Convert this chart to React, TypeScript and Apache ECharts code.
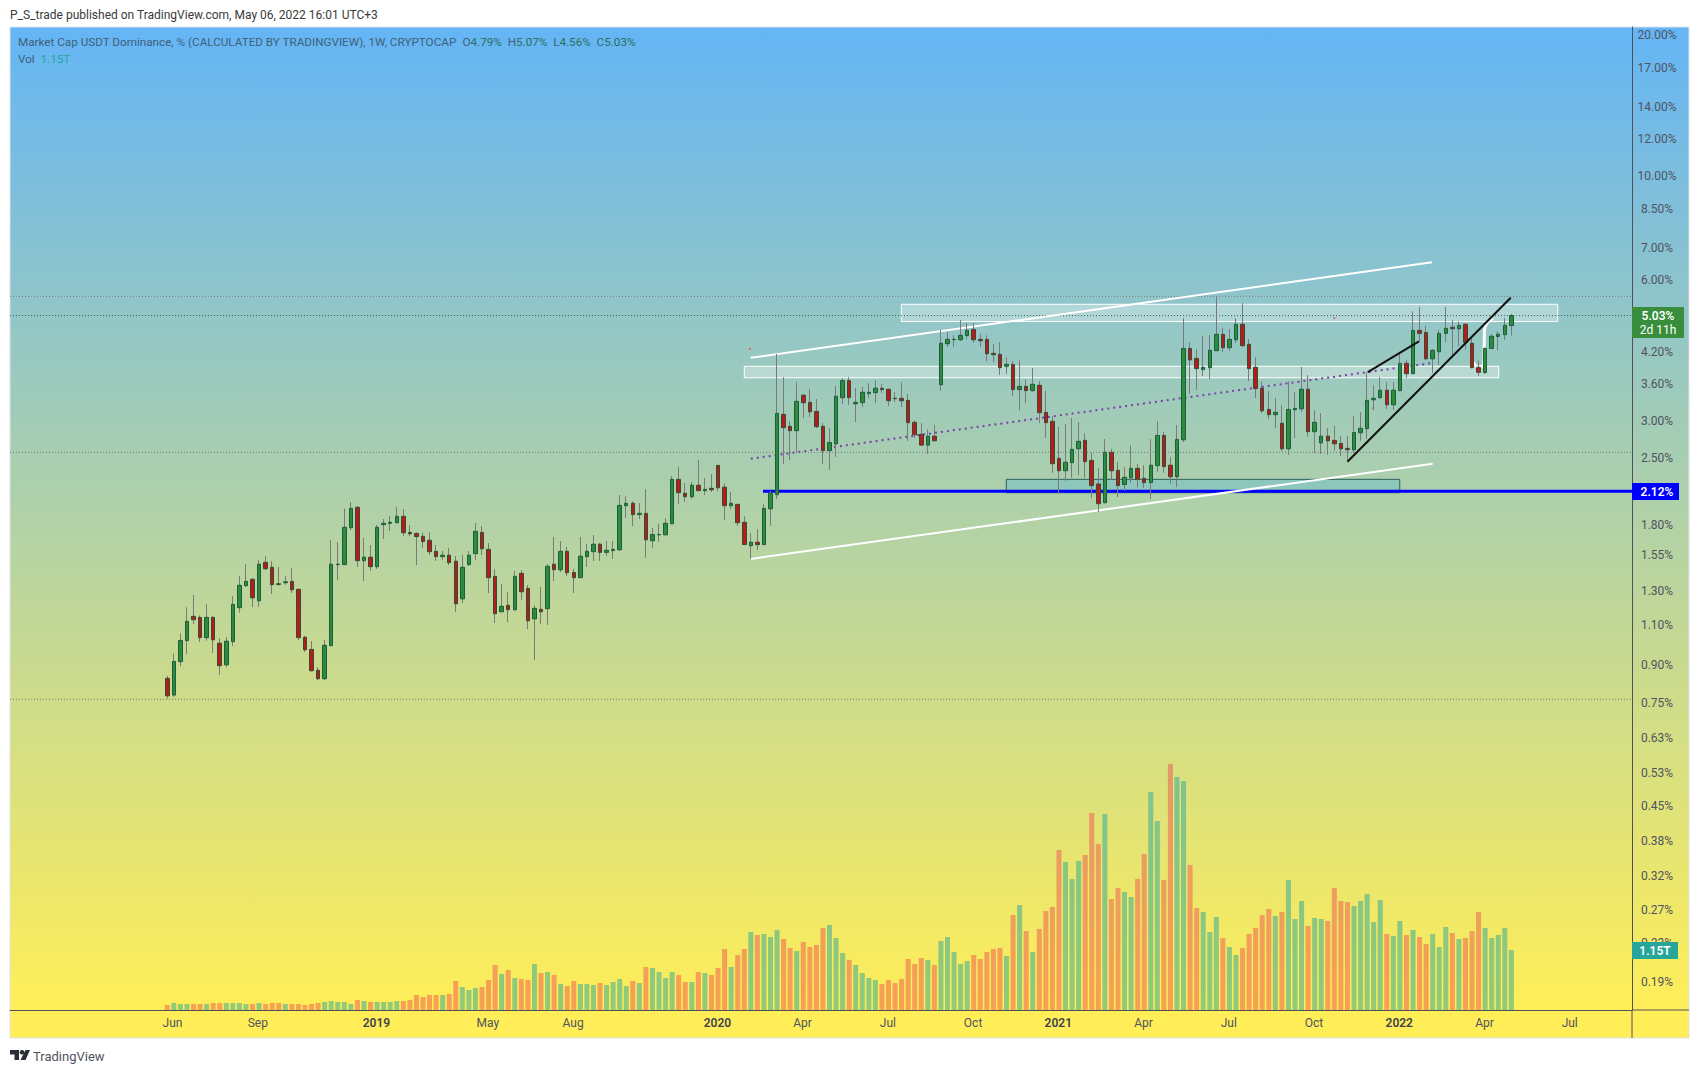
import React, { useEffect, useRef } from 'react';
import * as echarts from 'echarts';

// weekly bars, index 0 = first week on the chart
const opens = [
  0.845, 0.778, 0.917, 1.017, 1.146, 1.14, 1.032, 1.14, 1.004, 0.903,
  1.012, 1.196, 1.332, 1.375, 1.237, 1.495, 1.459, 1.345, 1.352, 1.361,
  1.309, 1.034, 0.974, 0.879, 0.843, 0.992, 1.478, 1.478, 1.772, 1.959,
  1.507, 1.533, 1.463, 1.799, 1.811, 1.816, 1.874, 1.732, 1.723, 1.699,
  1.666, 1.578, 1.537, 1.548, 1.503, 1.249, 1.478, 1.56, 1.732, 1.593,
  1.395, 1.172, 1.21, 1.184, 1.416, 1.315, 1.132, 1.186, 1.19, 1.481,
  1.441, 1.578, 1.422, 1.386, 1.537, 1.575, 1.634, 1.57, 1.583, 1.59,
  1.975, 1.998, 1.89, 1.902, 1.662, 1.711, 1.711, 1.807, 2.248, 2.099,
  2.064, 2.184, 2.126, 2.151, 2.408, 2.163, 1.975, 1.987, 1.82, 1.622,
  1.65, 1.631, 1.945, 2.085, 3.095, 2.918, 2.856, 3.4, 3.284, 3.14,
  2.918, 2.588, 2.677, 3.36, 3.654, 3.26, 3.277, 3.427, 3.444, 3.519,
  3.502, 3.349, 3.349, 3.315, 2.976, 2.806, 2.66, 2.78, 3.58, 4.38,
  4.468, 4.467, 4.558, 4.7, 4.475, 4.475, 4.178, 4.157, 3.92, 3.957,
  3.495, 3.552, 3.478, 3.57, 3.125, 2.99, 2.493, 2.345, 2.44, 2.613,
  2.723, 2.468, 2.197, 2.004, 2.568, 2.35, 2.192, 2.266, 2.373, 2.259,
  2.212, 2.405, 2.79, 2.41, 2.277, 2.73, 4.28, 4.075, 3.856, 3.894,
  4.232, 4.588, 4.295, 4.467, 4.82, 4.368, 3.9, 3.519, 3.17, 3.09,
  2.962, 2.613, 3.165, 3.18, 3.502, 2.842, 2.69, 2.78, 2.723, 2.682,
  2.618, 2.6, 2.827, 2.885, 3.325, 3.36, 3.485, 3.245, 3.478, 3.977,
  3.78, 4.678, 4.63, 4.066, 4.21, 4.61, 4.75, 4.715, 4.82, 4.39,
  3.9, 3.8, 4.28, 4.54, 4.58, 4.79,
];
const closes = [
  0.775, 0.918, 1.018, 1.118, 1.127, 1.032, 1.14, 1.021, 0.899, 1.014,
  1.215, 1.335, 1.361, 1.255, 1.481, 1.448, 1.339, 1.341, 1.358, 1.306,
  1.032, 0.972, 0.877, 0.843, 0.994, 1.481, 1.481, 1.776, 1.949, 1.507,
  1.533, 1.463, 1.776, 1.811, 1.82, 1.874, 1.729, 1.72, 1.696, 1.655,
  1.575, 1.537, 1.548, 1.492, 1.219, 1.459, 1.548, 1.741, 1.598, 1.386,
  1.161, 1.204, 1.184, 1.395, 1.293, 1.121, 1.192, 1.172, 1.466, 1.441,
  1.578, 1.42, 1.386, 1.54, 1.578, 1.634, 1.57, 1.586, 1.593, 1.978,
  1.998, 1.89, 1.902, 1.67, 1.714, 1.714, 1.811, 2.248, 2.105, 2.064,
  2.184, 2.126, 2.14, 2.136, 2.157, 1.975, 1.998, 1.816, 1.631, 1.65,
  1.631, 1.949, 2.099, 3.11, 2.898, 2.856, 3.3, 3.277, 3.134, 2.913,
  2.588, 2.695, 3.383, 3.654, 3.36, 3.284, 3.45, 3.45, 3.519, 3.495,
  3.309, 3.342, 3.309, 2.971, 2.8, 2.66, 2.78, 2.717, 4.389, 4.475,
  4.475, 4.565, 4.678, 4.467, 4.445, 4.17, 4.15, 3.894, 3.957, 3.495,
  3.552, 3.478, 3.587, 3.12, 2.971, 2.428, 2.345, 2.445, 2.606, 2.71,
  2.452, 2.18, 1.994, 2.568, 2.345, 2.18, 2.27, 2.373, 2.25, 2.212,
  2.41, 2.79, 2.393, 2.277, 2.735, 4.28, 4.046, 3.875, 3.9, 4.24,
  4.588, 4.295, 4.475, 4.82, 4.338, 3.875, 3.512, 3.15, 3.09, 3.125,
  2.613, 3.17, 3.187, 3.502, 2.842, 2.976, 2.78, 2.717, 2.677, 2.613,
  2.6, 2.83, 2.89, 3.315, 3.349, 3.485, 3.245, 3.485, 3.977, 3.78,
  4.678, 4.61, 4.066, 4.24, 4.61, 4.725, 4.715, 4.795, 4.41, 3.894,
  3.806, 4.28, 4.545, 4.59, 4.795, 5.03,
];
const lows = [
  0.765, 0.771, 0.897, 0.952, 1.103, 1.01, 1.017, 0.957, 0.859, 0.893,
  0.99, 1.167, 1.326, 1.2, 1.2, 1.439, 1.279, 1.332, 1.339, 1.285,
  1.02, 0.962, 0.873, 0.838, 0.839, 0.99, 1.37, 1.475, 1.752, 1.461,
  1.363, 1.432, 1.446, 1.676, 1.744, 1.814, 1.702, 1.702, 1.475, 1.604,
  1.55, 1.505, 1.512, 1.475, 1.171, 1.223, 1.468, 1.512, 1.55, 1.285,
  1.109, 1.17, 1.114, 1.176, 1.241, 1.076, 0.924, 1.103, 1.098, 1.363,
  1.425, 1.397, 1.285, 1.384, 1.461, 1.505, 1.505, 1.542, 1.52, 1.58,
  1.858, 1.787, 1.849, 1.527, 1.604, 1.652, 1.709, 1.804, 1.99, 2.011,
  2.04, 2.124, 2.081, 2.112, 2.123, 1.84, 1.943, 1.787, 1.629, 1.52,
  1.588, 1.629, 1.787, 2.04, 2.425, 2.472, 2.556, 3.04, 3.055, 2.894,
  2.425, 2.353, 2.51, 3.256, 3.24, 2.98, 3.208, 3.354, 3.272, 3.439,
  3.224, 3.288, 3.208, 2.714, 2.754, 2.658, 2.547, 2.714, 3.473, 4.31,
  4.31, 4.44, 4.483, 4.396, 4.31, 4.02, 4.0, 3.755, 3.774, 3.388,
  3.16, 3.272, 3.46, 2.966, 2.754, 2.32, 2.095, 2.232, 2.266, 2.296,
  2.263, 2.05, 1.915, 2.0, 2.248, 2.06, 2.123, 2.212, 2.163, 2.153,
  2.04, 2.33, 2.32, 2.2, 2.163, 2.7, 3.422, 3.49, 3.736, 3.679,
  4.23, 4.205, 4.225, 4.396, 4.31, 3.643, 3.354, 3.115, 3.025, 2.894,
  2.584, 2.535, 2.754, 3.13, 2.768, 2.56, 2.547, 2.535, 2.584, 2.522,
  2.46, 2.56, 2.717, 2.745, 3.155, 3.337, 3.176, 3.16, 3.468, 3.698,
  3.775, 4.415, 4.05, 3.793, 3.945, 4.415, 4.1, 4.33, 4.26, 3.88,
  3.736, 3.78, 4.267, 4.246, 4.46, 4.56,
];
const highs = [
  0.855, 0.955, 1.054, 1.198, 1.273, 1.151, 1.217, 1.148, 1.029, 1.035,
  1.267, 1.397, 1.481, 1.382, 1.512, 1.542, 1.505, 1.461, 1.397, 1.454,
  1.312, 1.04, 1.015, 0.892, 1.02, 1.668, 1.652, 1.949, 2.011, 1.972,
  1.685, 1.628, 1.796, 1.849, 1.877, 1.962, 1.943, 1.796, 1.732, 1.732,
  1.732, 1.628, 1.58, 1.604, 1.542, 1.55, 1.58, 1.813, 1.787, 1.644,
  1.446, 1.344, 1.291, 1.432, 1.439, 1.337, 1.21, 1.324, 1.483, 1.693,
  1.66, 1.612, 1.446, 1.693, 1.636, 1.71, 1.644, 1.66, 1.66, 2.081,
  2.07, 2.02, 2.0, 2.143, 1.77, 1.805, 1.858, 2.285, 2.388, 2.208,
  2.219, 2.472, 2.263, 2.308, 2.41, 2.205, 2.112, 1.998, 1.874, 1.726,
  1.76, 1.99, 2.123, 4.164, 3.717, 2.996, 3.626, 3.422, 3.507, 3.337,
  2.966, 2.894, 3.558, 3.698, 3.717, 3.524, 3.541, 3.609, 3.66, 3.592,
  3.505, 3.456, 3.626, 3.422, 3.005, 2.966, 2.875, 2.937, 4.685, 4.64,
  4.572, 4.92, 4.85, 4.85, 4.596, 4.565, 4.375, 4.415, 4.1, 4.02,
  4.04, 3.679, 3.888, 3.643, 3.473, 3.065, 2.908, 2.951, 3.04, 2.98,
  2.822, 2.56, 2.376, 2.74, 2.61, 2.448, 2.388, 2.66, 2.425, 2.41,
  2.74, 2.996, 2.84, 2.51, 2.937, 4.97, 4.415, 4.267, 4.55, 4.572,
  5.516, 4.73, 4.708, 4.97, 5.35, 4.483, 4.1, 3.643, 3.473, 3.354,
  3.24, 3.643, 3.456, 3.907, 3.755, 3.16, 3.115, 2.894, 2.923, 2.78,
  2.78, 3.07, 3.13, 3.81, 3.575, 3.717, 3.626, 3.626, 4.164, 4.04,
  5.14, 5.25, 4.78, 4.267, 4.685, 5.25, 4.92, 4.89, 4.845, 4.5,
  4.034, 4.3, 4.59, 4.66, 4.97, 5.07,
];
// volume in trillions
const volumes = [
  0.096, 0.134, 0.115, 0.115, 0.115, 0.115, 0.115, 0.134, 0.134, 0.134,
  0.134, 0.134, 0.115, 0.115, 0.134, 0.115, 0.134, 0.134, 0.115, 0.115,
  0.115, 0.096, 0.115, 0.134, 0.153, 0.173, 0.153, 0.153, 0.115, 0.192,
  0.173, 0.153, 0.153, 0.153, 0.153, 0.173, 0.173, 0.192, 0.288, 0.249,
  0.288, 0.288, 0.288, 0.307, 0.556, 0.441, 0.383, 0.422, 0.441, 0.575,
  0.863, 0.69, 0.767, 0.613, 0.594, 0.575, 0.882, 0.709, 0.728, 0.671,
  0.498, 0.46, 0.556, 0.498, 0.498, 0.479, 0.518, 0.479, 0.537, 0.594,
  0.46, 0.556, 0.518, 0.824, 0.805, 0.728, 0.613, 0.728, 0.671, 0.537,
  0.537, 0.728, 0.709, 0.671, 0.805, 1.169, 0.824, 1.054, 1.169, 1.495,
  1.438, 1.457, 1.399, 1.534, 1.361, 1.189, 1.131, 1.304, 1.208, 1.246,
  1.572, 1.629, 1.38, 1.093, 0.959, 0.863, 0.709, 0.613, 0.575, 0.498,
  0.575, 0.518, 0.594, 0.978, 0.882, 0.997, 0.959, 0.863, 1.323, 1.399,
  1.112, 0.882, 0.939, 1.054, 0.978, 1.112, 1.169, 1.189, 1.035, 1.821,
  2.013, 1.514, 1.112, 1.553, 1.898, 1.975, 3.067, 2.837, 2.511, 2.856,
  2.971, 3.776, 3.182, 3.757, 2.128, 2.339, 2.262, 2.166, 2.511, 2.991,
  4.179, 3.623, 2.492, 4.716, 4.467, 4.39, 2.78, 1.955, 1.879, 1.495,
  1.783, 1.38, 1.208, 1.054, 1.189, 1.457, 1.572, 1.821, 1.936, 1.802,
  1.879, 2.492, 1.744, 2.09, 1.61, 1.764, 1.744, 1.706, 2.339, 2.09,
  2.07, 1.994, 2.09, 2.224, 1.687, 2.109, 1.457, 1.419, 1.706, 1.438,
  1.534, 1.399, 1.265, 1.457, 1.208, 1.591, 1.476, 1.361, 1.38, 1.514,
  1.879, 1.572, 1.38, 1.438, 1.572, 1.15,
];

const priceTicks = [
  20, 17, 14, 12, 10, 8.5, 7, 6, 4.2, 3.6, 3, 2.5, 1.8, 1.55, 1.3, 1.1,
  0.9, 0.75, 0.63, 0.53, 0.45, 0.38, 0.32, 0.27, 0.23, 0.19,
];
const timeLabels = ['Jun', 'Sep', '2019', 'May', 'Aug', '2020', 'Apr', 'Jul', 'Oct', '2021', 'Apr', 'Jul', 'Oct', '2022', 'Apr', 'Jul'];
const timeBars = [0.8, 13.8, 31.9, 48.9, 61.9, 83.9, 96.9, 109.9, 122.9, 135.9, 148.9, 161.9, 174.9, 187.9, 200.9, 213.9];

// hand drawn levels and trend lines, in [bar, price]
const channelTop = [[89, 4.087], [192.9, 6.537]];
const channelBottom = [[89, 1.52], [193, 2.428]];
const midLine = [[89, 2.488], [192.6, 3.978]];
const wedgeLow = [[180, 2.452], [204.9, 5.49]];
const wedgeHigh = [[183.1, 3.81], [190.9, 4.43]];
const hook = [[199.2, 4.0], [199.9, 3.906], [200.8, 3.978], [200.9, 4.685], [201.3, 4.85], [202.2, 4.96]];
const redDots = [[88.9, 4.27], [178, 4.97], [183.9, 3.19]];
const supportLevel = 2.12;
const greyLevels = [5.53, 2.567, 0.762];
const lastPrice = 5.03;
const upperBox = [111.96, 212.08, 5.318, 4.885];
const middleBox = [88, 203.08, 3.92, 3.705];
const lowerBox = [127.97, 187.98, 2.248, 2.105];

const X_MIN = -23.99;
const X_MAX = 223.4;
const FONT = 'Roboto, sans-serif';
const AXIS_COLOR = '#50505a';
const TEXT_COLOR = '#50535e';

const straight = (name: string, data: number[][], lineStyle: any, z = 2, smooth = false) => ({
  name,
  type: 'line',
  data,
  z,
  smooth,
  symbol: 'none',
  silent: true,
  lineStyle,
});

const box = (name: string, b: number[], fill: string, stroke: string, width: number) => ({
  name,
  type: 'line',
  data: [],
  z: 1,
  silent: true,
  markArea: {
    silent: true,
    itemStyle: { color: fill, borderColor: stroke, borderWidth: width },
    data: [[{ coord: [b[0], b[2]] }, { coord: [b[1], b[3]] }]],
  },
});

const App: React.FC = () => {
  const chartRef = useRef<HTMLDivElement>(null);

  useEffect(() => {
    if (!chartRef.current) return;
    const chart = echarts.init(chartRef.current, undefined, { renderer: 'svg' });

    const bars = opens.map((o, i) => i);
    const wickData = bars.map(i => [i, opens[i], closes[i], lows[i], highs[i]]);
    const bodyData = bars.map(i => [
      i,
      opens[i],
      closes[i],
      Math.min(opens[i], closes[i]),
      Math.max(opens[i], closes[i]),
    ]);
    const volumeData = bars.map(i => ({
      value: [i, volumes[i]],
      itemStyle: { color: closes[i] >= opens[i] ? 'rgba(38,166,154,0.5)' : 'rgba(239,83,80,0.5)' },
    }));

    const option = {
      animation: false,
      backgroundColor: '#ffffff',
      textStyle: { fontFamily: FONT },
      grid: { left: 10, right: 68, top: 27, bottom: 63 },
      xAxis: {
        type: 'value',
        min: X_MIN,
        max: X_MAX,
        splitLine: { show: false },
        axisTick: { show: false },
        axisLine: { show: true, onZero: false, lineStyle: { color: AXIS_COLOR, width: 1 } },
        axisLabel: {
          customValues: timeBars,
          margin: 7,
          fontSize: 12,
          fontFamily: FONT,
          color: TEXT_COLOR,
          formatter: (v: number) => {
            const label = timeLabels[timeBars.indexOf(v)] ?? '';
            return /^\d+$/.test(label) ? `{year|${label}}` : label;
          },
          rich: { year: { fontSize: 12, fontFamily: FONT, fontWeight: 600, color: '#3f424c' } },
        },
      },
      yAxis: [
        {
          type: 'log',
          position: 'right',
          min: 0.1653,
          max: 20.8,
          splitLine: { show: false },
          axisTick: { show: false },
          axisLine: { show: true, onZero: false, lineStyle: { color: AXIS_COLOR, width: 1 } },
          axisLabel: {
            customValues: priceTicks,
            margin: 25,
            align: 'center',
            fontSize: 12,
            fontFamily: FONT,
            color: TEXT_COLOR,
            formatter: (v: number) => `${v.toFixed(2)}%`,
          },
        },
        { type: 'value', min: 0, max: 18.84, show: false },
      ],
      graphic: [
        {
          type: 'rect',
          z: -10,
          shape: { x: 10, y: 27, width: 1679, height: 1011 },
          style: {
            // the gradient ends at the plot's bottom edge, the time strip is flat
            fill: new echarts.graphic.LinearGradient(0, 0, 0, 1, [
              { offset: 0, color: '#64b5f6' },
              { offset: 0.972, color: '#ffee58' },
              { offset: 1, color: '#ffee58' },
            ]),
            stroke: '#dfe3ea',
            lineWidth: 1,
          },
        },
        // axis lines run on past the plot into the corner cell
        { type: 'line', z: 5, shape: { x1: 1632, y1: 1010, x2: 1689, y2: 1010 }, style: { stroke: AXIS_COLOR, lineWidth: 1 } },
        { type: 'line', z: 5, shape: { x1: 1632, y1: 1010, x2: 1632, y2: 1038 }, style: { stroke: AXIS_COLOR, lineWidth: 1 } },
        {
          type: 'text',
          x: 10,
          y: 15,
          style: { text: 'P_S_trade published on TradingView.com, May 06, 2022 16:01 UTC+3', fontSize: 12, fontFamily: FONT, fill: '#3a3a3a', verticalAlign: 'middle' },
        },
        {
          type: 'text',
          x: 18,
          y: 42,
          style: {
            text: 'Market Cap USDT Dominance, % (CALCULATED BY TRADINGVIEW), 1W, CRYPTOCAP  {t|O}{v|4.79%}  {t|H}{v|5.07%}  {t|L}{v|4.56%}  {t|C}{v|5.03%}',
            fontSize: 11.7,
            fontFamily: FONT,
            fill: '#3f6078',
            verticalAlign: 'middle',
            rich: {
              t: { fontSize: 11.7, fontFamily: FONT, fill: '#3f6078' },
              v: { fontSize: 11.7, fontFamily: FONT, fill: '#2c6e58' },
            },
          },
        },
        {
          type: 'text',
          x: 18,
          y: 59,
          style: {
            text: 'Vol  {n|1.15T}',
            fontSize: 11.7,
            fontFamily: FONT,
            fill: '#3f6078',
            verticalAlign: 'middle',
            rich: { n: { fontSize: 11.7, fontFamily: FONT, fill: '#26a69a' } },
          },
        },
        // price and volume tags on the scale
        { type: 'rect', z: 20, shape: { x: 1632, y: 307, width: 52, height: 31, r: 1 }, style: { fill: '#388e3c' } },
        { type: 'text', z: 21, x: 1658, y: 315.5, style: { text: '5.03%', fontSize: 12, fontWeight: 600, fontFamily: FONT, fill: '#ffffff', align: 'center', verticalAlign: 'middle' } },
        { type: 'text', z: 21, x: 1658, y: 330, style: { text: '2d 11h', fontSize: 12, fontFamily: FONT, fill: '#ffffff', align: 'center', verticalAlign: 'middle' } },
        { type: 'rect', z: 20, shape: { x: 1632, y: 483, width: 47, height: 17 }, style: { fill: '#0000ff' } },
        { type: 'text', z: 21, x: 1657, y: 491.5, style: { text: '2.12%', fontSize: 12, fontWeight: 600, fontFamily: FONT, fill: '#ffffff', align: 'center', verticalAlign: 'middle' } },
        { type: 'rect', z: 20, shape: { x: 1632, y: 942, width: 46, height: 17 }, style: { fill: '#26a69a' } },
        { type: 'text', z: 21, x: 1655, y: 950.5, style: { text: '1.15T', fontSize: 12, fontWeight: 600, fontFamily: FONT, fill: '#ffffff', align: 'center', verticalAlign: 'middle' } },
        // footer logo
        { type: 'polygon', shape: { points: [[10, 1050], [19, 1050], [19, 1060], [14.5, 1060], [14.5, 1054.5], [10, 1054.5]] }, style: { fill: '#2a2e39' } },
        { type: 'circle', shape: { cx: 22, cy: 1052.3, r: 2.3 }, style: { fill: '#2a2e39' } },
        { type: 'polygon', shape: { points: [[25.5, 1050], [30, 1050], [25.5, 1060], [20.5, 1060]] }, style: { fill: '#2a2e39' } },
        { type: 'text', x: 33, y: 1056, style: { text: 'TradingView', fontSize: 13, fontFamily: FONT, fill: '#50535e', verticalAlign: 'middle' } },
      ],
      series: [
        {
          name: 'Vol',
          type: 'bar',
          yAxisIndex: 1,
          barWidth: 5,
          z: 1,
          silent: true,
          data: volumeData,
        },
        box('Upper box', upperBox, 'rgba(255,255,255,0.3)', '#ffffff', 1),
        box('Middle box', middleBox, 'rgba(255,255,255,0.3)', '#ffffff', 1),
        box('Lower box', lowerBox, 'rgba(33,170,243,0.22)', '#2f5f60', 1),
        ...greyLevels.map(level =>
          straight('Level', [[X_MIN, level], [X_MAX, level]], { color: '#777777', width: 1, type: [1, 2] }, 1),
        ),
        straight('Last', [[X_MIN, lastPrice], [X_MAX, lastPrice]], { color: '#2a6a3a', width: 1, type: [1, 2] }, 1),
        straight('Support', [[90.86, supportLevel], [X_MAX, supportLevel]], { color: '#0000ff', width: 3 }),
        straight('Channel top', channelTop, { color: '#ffffff', width: 2 }),
        straight('Channel bottom', channelBottom, { color: '#ffffff', width: 2 }),
        straight('Mid line', midLine, { color: '#7b3fa8', width: 2, type: [2, 4] }),
        straight('Wedge low', wedgeLow, { color: '#111111', width: 2 }, 4),
        straight('Wedge high', wedgeHigh, { color: '#111111', width: 2 }, 4),
        straight('Hook', hook, { color: '#ffffff', width: 3 }, 2, true),
        {
          name: 'Marks',
          type: 'scatter',
          symbolSize: 2,
          silent: true,
          z: 2,
          itemStyle: { color: '#f44336' },
          data: redDots,
        },
        {
          name: 'Wicks',
          type: 'candlestick',
          barWidth: 1,
          z: 3,
          silent: true,
          encode: { x: 0, y: [1, 2, 3, 4] },
          itemStyle: {
            color: '#7a7a7a',
            color0: '#7a7a7a',
            borderColor: '#7a7a7a',
            borderColor0: '#7a7a7a',
            borderWidth: 1,
          },
          data: wickData,
        },
        {
          name: 'Market Cap USDT Dominance',
          type: 'candlestick',
          barWidth: 4,
          z: 3,
          silent: true,
          encode: { x: 0, y: [1, 2, 3, 4] },
          itemStyle: {
            color: '#2e8b3e',
            color0: '#b71c1c',
            borderColor: '#1b5e3a',
            borderColor0: '#3a4a30',
            borderWidth: 1,
          },
          data: bodyData,
        },
      ],
    };

    chart.setOption(option as any);

    return () => {
      chart.dispose();
    };
  }, []);

  return <div ref={chartRef} style={{ position: 'fixed', left: 0, top: 0, width: 1700, height: 1073 }} />;
};

export default App;
